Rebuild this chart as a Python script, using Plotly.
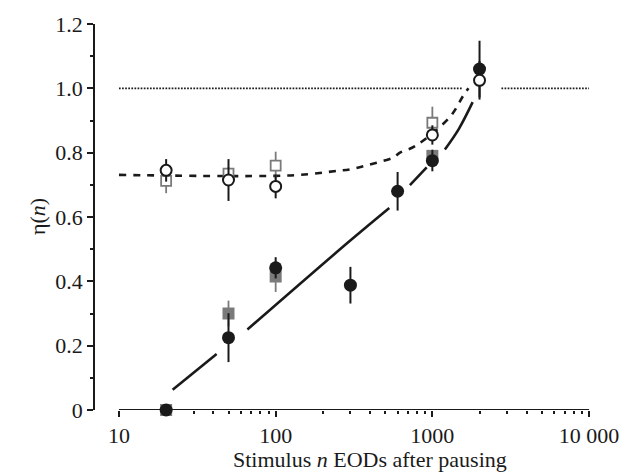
import plotly.graph_objects as go

# Stimulus n (EODs after pausing)
n_open_circ = [20, 50, 100, 1000, 2000]
eta_open_circ = [0.745, 0.715, 0.695, 0.855, 1.025]
err_open_circ = [0.035, 0.065, 0.037, 0.030, 0.060]

n_open_sq = [20, 50, 100, 1000]
eta_open_sq = [0.712, 0.735, 0.760, 0.893]
err_open_sq = [0.038, 0.020, 0.043, 0.050]

n_fill_circ = [20, 50, 100, 300, 600, 1000, 2000]
eta_fill_circ = [0.0, 0.225, 0.442, 0.388, 0.680, 0.775, 1.060]
err_fill_circ = [0.0, 0.076, 0.033, 0.057, 0.060, 0.033, 0.088]

n_fill_sq = [20, 50, 100, 1000]
eta_fill_sq = [0.0, 0.300, 0.415, 0.790]
err_fill_sq = [0.0, 0.040, 0.048, 0.020]

# fitted curves (sampled), None marks gaps around symbols
fit_open_n = [10, 133, 251, 298, 441, 564, 621, 774, 1295, 1574, 1700]
fit_open_eta = [0.731, 0.730, 0.744, 0.748, 0.769, 0.785, 0.800, 0.820, 0.911, 0.977, 1.0]

fit_fill_n = [22, 42, None, 66, 298, 531, None, 719, 920, None, 1202, 1480, 1807]
fit_fill_eta = [0.063, 0.174, None, 0.250, 0.526, 0.628, None, 0.699, 0.754, None, 0.810, 0.875, 0.957]

ref_n = [10, 1570, None, 2760, 10000]
ref_eta = [1.0, 1.0, None, 1.0, 1.0]

x_tickvals = [10, 100, 1000, 10000]
x_ticktext = ["10", "100", "1000", "10 000"]
x_minor = [k * d for d in (10, 100, 1000) for k in range(2, 10)]
y_tickvals = [0, 0.2, 0.4, 0.6, 0.8, 1.0, 1.2]
y_ticktext = ["0", "0.2", "0.4", "0.6", "0.8", "1.0", "1.2"]

BLACK = "#1a1a1a"
GREY = "#7a7a7a"
FONT = "Liberation Serif"
FS = 22

fig = go.Figure()

fig.add_trace(go.Scatter(x=ref_n, y=ref_eta, mode="lines",
                         line=dict(color=BLACK, width=1.9, dash="1.7px,1.4px"),
                         connectgaps=False, hoverinfo="skip"))
fig.add_trace(go.Scatter(x=fit_open_n, y=fit_open_eta, mode="lines",
                         line=dict(color=BLACK, width=2.6, dash="7px,7px", shape="spline"),
                         hoverinfo="skip"))
fig.add_trace(go.Scatter(x=fit_fill_n, y=fit_fill_eta, mode="lines",
                         line=dict(color=BLACK, width=2.6, shape="spline"),
                         connectgaps=False, hoverinfo="skip"))

fig.add_trace(go.Scatter(x=n_fill_sq, y=eta_fill_sq, mode="markers", cliponaxis=False,
                         error_y=dict(type="data", array=err_fill_sq, width=0,
                                      thickness=1.8, color=GREY),
                         marker=dict(symbol="square", size=12, color=GREY,
                                     line=dict(width=0))))
fig.add_trace(go.Scatter(x=n_open_sq, y=eta_open_sq, mode="markers", cliponaxis=False,
                         error_y=dict(type="data", array=err_open_sq, width=0,
                                      thickness=1.8, color=GREY),
                         marker=dict(symbol="square", size=10, color="white",
                                     line=dict(width=1.8, color=GREY))))
fig.add_trace(go.Scatter(x=n_fill_circ, y=eta_fill_circ, mode="markers", cliponaxis=False,
                         error_y=dict(type="data", array=err_fill_circ, width=0,
                                      thickness=2, color=BLACK),
                         marker=dict(symbol="circle", size=13, color=BLACK,
                                     line=dict(width=0))))
fig.add_trace(go.Scatter(x=n_open_circ, y=eta_open_circ, mode="markers", cliponaxis=False,
                         error_y=dict(type="data", array=err_open_circ, width=0,
                                      thickness=2, color=BLACK),
                         marker=dict(symbol="circle", size=11, color="white",
                                     line=dict(width=2, color=BLACK))))

# x-axis baseline spans only 10 .. 10 000
fig.add_shape(type="line", xref="x", yref="y", x0=10, x1=10000, y0=0, y1=0,
              line=dict(color=BLACK, width=1.8), layer="below")

# axis titles
fig.add_annotation(text="Stimulus <i>n</i> EODs after pausing", xref="paper", yref="paper",
                   x=0.556, y=-0.127, xanchor="center", yanchor="middle", showarrow=False,
                   font=dict(family=FONT, size=FS, color=BLACK))
fig.add_annotation(text="η(<i>n</i>)", xref="paper", yref="paper", textangle=-90,
                   x=-0.117, y=0.5, xanchor="center", yanchor="middle", showarrow=False,
                   font=dict(family=FONT, size=FS, color=BLACK))

fig.update_layout(
    width=631, height=473,
    margin=dict(l=95, r=41, t=15, b=63),
    paper_bgcolor="white", plot_bgcolor="white",
    showlegend=False,
    font=dict(family=FONT, size=FS, color=BLACK),
)
fig.update_xaxes(
    type="log", range=[0.847, 4.006],
    showline=False, showgrid=False, zeroline=False,
    tickmode="array", tickvals=x_tickvals, ticktext=x_ticktext,
    ticks="outside", ticklen=6, tickwidth=1.8, tickcolor=BLACK,
    minor=dict(tickvals=x_minor, ticks="outside", ticklen=3, tickwidth=1.5,
               tickcolor=BLACK, showgrid=False),
    tickfont=dict(family=FONT, size=FS),
)
fig.update_yaxes(
    range=[0, 1.2],
    showline=True, linecolor=BLACK, linewidth=1.8,
    showgrid=False, zeroline=False,
    tickmode="array", tickvals=y_tickvals, ticktext=y_ticktext,
    ticks="outside", ticklen=6, tickwidth=1.8, tickcolor=BLACK,
    minor=dict(dtick=0.1, ticks="outside", ticklen=3, tickwidth=1.5,
               tickcolor=BLACK, showgrid=False),
    tickfont=dict(family=FONT, size=FS),
)

fig.write_html("out.html")
